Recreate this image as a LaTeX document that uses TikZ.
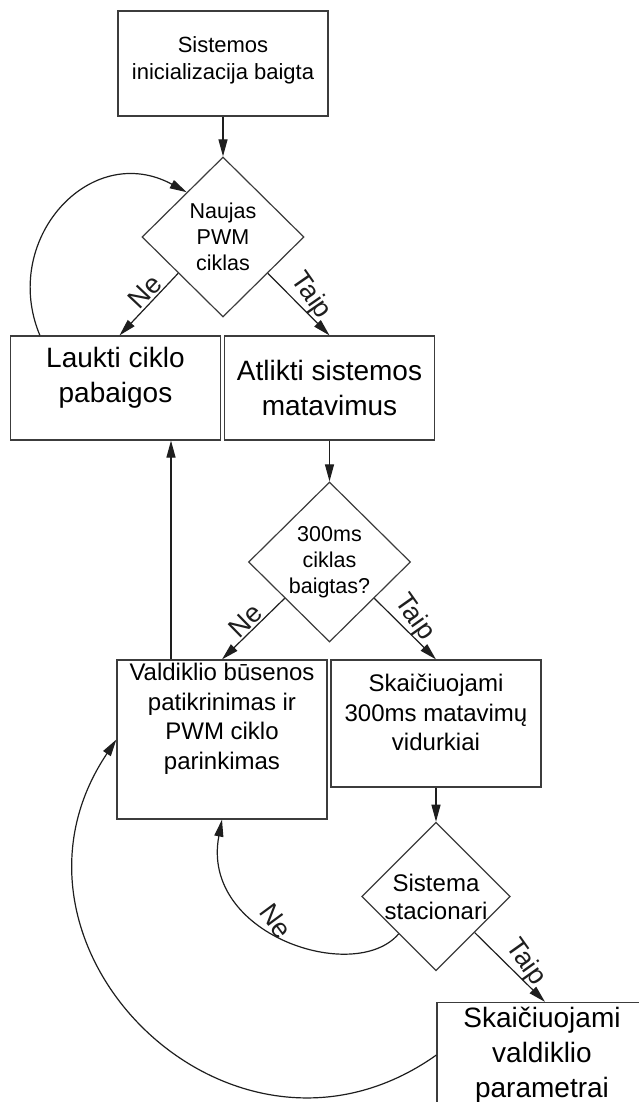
\documentclass[tikz,border=0pt]{standalone}
\usepackage{fontspec}
\setmainfont{Liberation Sans}
\definecolor{boxgray}{RGB}{60,60,60}
\definecolor{arrowgray}{RGB}{30,30,30}
\usetikzlibrary{shapes,arrows.meta,positioning,calc}

\begin{document}
\begin{tikzpicture}[x=1pt, y=-1pt,
    box/.style={rectangle, draw=boxgray, line width=1.2pt, minimum width=210pt, align=center, inner sep=0pt},
    cond/.style={diamond, draw=boxgray, line width=1.2pt, align=center, inner sep=0pt},
    arrow/.style={-{Triangle[length=17pt,width=9pt]}, line width=1.2pt, arrowgray},
    lbl/.style={font=\fontsize{27}{30}\selectfont, sloped, above, inner sep=1.5pt}
]
    \useasboundingbox (0,0) rectangle (639,1102);

    \node[box, minimum height=105pt, font=\fontsize{22}{27}\selectfont] (init) at (223,63.5) {Sistemos\\inicializacija baigta\\[-17pt]};
    \node[cond, minimum width=162pt, minimum height=160pt, font=\fontsize{21.5}{26}\selectfont] (dec1) at (223,237) {Naujas\\PWM\\ciklas};
    \node[box, minimum height=104pt, font=\fontsize{28}{35}\selectfont] (wait) at (115.5,388) {Laukti ciklo\\pabaigos\\[-9pt]};
    \node[box, minimum height=104pt, font=\fontsize{28}{35}\selectfont] (meas) at (329.5,388) {Atlikti sistemos\\matavimus};
    \node[cond, minimum width=162pt, minimum height=160pt, font=\fontsize{21.5}{26}\selectfont] (dec2) at (329.5,562) {300ms\\ciklas\\baigtas?};
    \node[box, minimum height=159pt, font=\fontsize{24}{29.5}\selectfont] (ctrl) at (222,739.5) {Valdiklio būsenos\\patikrinimas ir\\PWM ciklo\\parinkimas\\[16.5pt]};
    \node[box, minimum height=127pt, font=\fontsize{24}{29.5}\selectfont] (avg) at (436,723.5) {Skaičiuojami\\300ms matavimų\\vidurkiai\\[-7.5pt]};
    \node[cond, minimum width=148pt, minimum height=147pt, font=\fontsize{24}{28}\selectfont] (dec3) at (436,896.5) {Sistema\\stacionari};
    \node[box, minimum height=105pt, font=\fontsize{28}{35}\selectfont] (param) at (542,1055) {Skaičiuojami\\valdiklio\\parametrai};

    \draw[arrow] (init) -- (dec1);
    \draw[arrow] (dec1.219) -- node[lbl, pos=0.42] {Ne} ([xshift=4pt]wait.north);
    \draw[arrow] (dec1.-39) -- node[lbl, pos=0.5, rotate=-10] {Taip} (meas.north);
    \draw[arrow] ([xshift=30pt]wait.north west) .. controls (0,240) and (90,140) .. (dec1.129);
    \draw[arrow] (meas) -- (dec2);
    \draw[arrow] (dec2.219) -- node[lbl, pos=0.5] {Ne} (ctrl.north);
    \draw[arrow] (dec2.-39) -- node[lbl, pos=0.45, rotate=-10] {Taip} (avg.north);
    \draw[arrow] ([xshift=-51pt]ctrl.north) -- ([xshift=-51pt]ctrl.north |- wait.south);
    \draw[arrow] (avg) -- (dec3);
    \draw[arrow] (dec3.-43) -- node[lbl, pos=0.55, rotate=-10] {Taip} ([xshift=3pt]param.north);
    \draw[arrow] (dec3.225) .. controls (355,985) and (200,935) .. node[lbl, pos=0.58, rotate=-18] {Ne} (ctrl.south);
    \draw[arrow] (param.west) .. controls (232,1200) and (-23,947) .. (ctrl.west);
\end{tikzpicture}
\end{document}
